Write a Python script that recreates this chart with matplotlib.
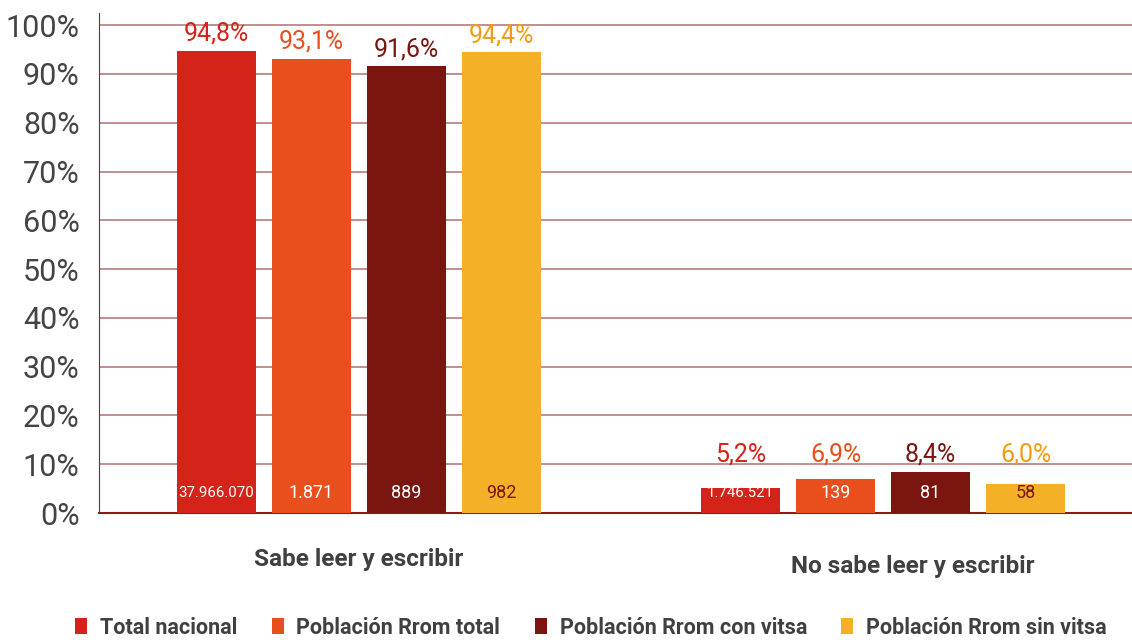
import matplotlib
matplotlib.use("Agg")
import matplotlib.pyplot as plt
from matplotlib.patches import Patch
import numpy as np

plt.rcParams['font.family'] = ['Roboto', 'DejaVu Sans']

categories = ["Sabe leer y escribir", "No sabe leer y escribir"]
series = ["Total nacional", "Población Rrom total", "Población Rrom con vitsa", "Población Rrom sin vitsa"]
percent = [
    [94.8, 5.2],
    [93.1, 6.9],
    [91.6, 8.4],
    [94.4, 6.0],
]
pct_labels = [
    ["94,8%", "5,2%"],
    ["93,1%", "6,9%"],
    ["91,6%", "8,4%"],
    ["94,4%", "6,0%"],
]
counts = [
    ["37.966.070", "1.746.521"],
    ["1.871", "139"],
    ["889", "81"],
    ["982", "58"],
]
colors = ["#d42318", "#e84f1c", "#7a1510", "#f4b026"]
label_colors = ["#d42318", "#e84f1c", "#7a1510", "#f39c12"]
count_colors = ["white", "white", "white", "#7a1510"]

fig = plt.figure(figsize=(11.32, 6.42), dpi=100)
ax = fig.add_axes([0.0875, 0.2009, 0.9125, 0.7789])

x = np.arange(len(categories))
step = 0.1813
width = 0.151

for i in range(len(series)):
    xs = x + (i - 1.5) * step
    vals = np.array(percent[i]) / 100
    ax.bar(xs, vals, width=width, color=colors[i], zorder=3)
    for j in range(len(categories)):
        ytxt = max(vals[j], 0.085) + 0.035
        ax.text(xs[j], ytxt, pct_labels[i][j], ha='center', va='center',
                fontsize=18, color=label_colors[i], zorder=4)
        # long numbers must fit inside the bar
        fs = 13 if len(counts[i][j]) < 8 else 10.8
        ax.text(xs[j], 0.041, counts[i][j], ha='center', va='center',
                fontsize=fs, color=count_colors[i], zorder=4)

ax.set_xlim(-0.496, 1.475)
ax.set_ylim(0, 1.025)
ax.set_yticks(np.arange(0, 1.01, 0.1))
ax.set_yticklabels([f"{int(round(v*100))}%" for v in np.arange(0, 1.01, 0.1)],
                   fontsize=22, color="#444444")
ax.tick_params(axis='y', length=0, pad=14)
ax.tick_params(axis='x', length=0)
ax.set_xticks([])
ax.yaxis.grid(True, color="#b07070", lw=1.1, zorder=0)
ax.set_axisbelow(True)

for s in ["top", "right"]:
    ax.spines[s].set_visible(False)
ax.spines["left"].set_color("#8b2020")
ax.spines["bottom"].set_color("#8b1a1a")
ax.spines["bottom"].set_linewidth(1.5)

cat_pos = [(0, -0.092), (1.057, -0.107)]
for (cx, cy), cat in zip(cat_pos, categories):
    ax.text(cx, cy, cat, ha='center', va='center', fontsize=17.5,
            fontweight='bold', color="#404040", transform=ax.get_xaxis_transform())

handles = [Patch(facecolor=c, edgecolor='none') for c in colors]
leg = fig.legend(handles, series, loc='center', bbox_to_anchor=(0.522, 0.022),
                 ncol=4, frameon=False, handlelength=0.55, handleheight=0.75,
                 handletextpad=0.6, columnspacing=1.6,
                 prop={'size': 15.5, 'weight': 'bold'})
for t in leg.get_texts():
    t.set_color("#404040")

fig.savefig("out.png", dpi=100)
